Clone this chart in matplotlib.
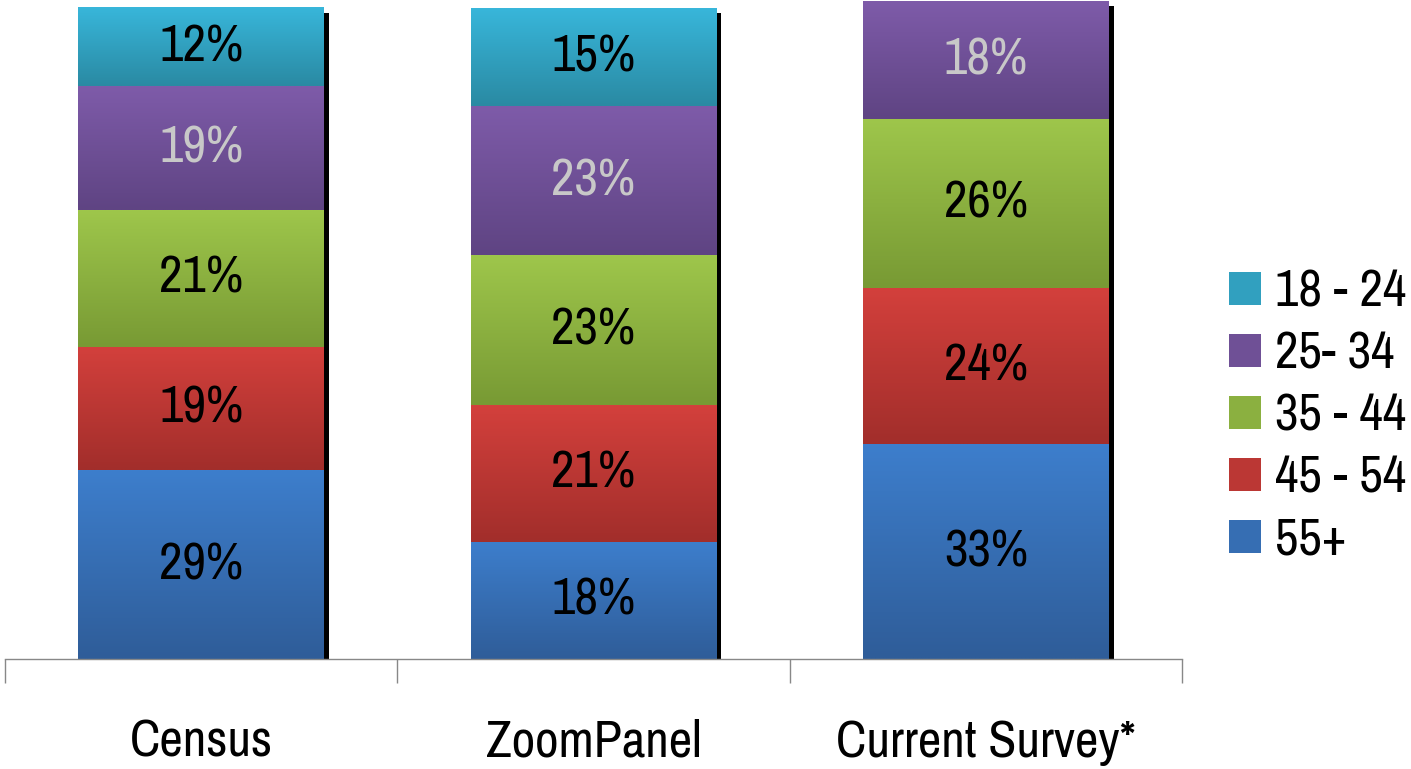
import numpy as np
import matplotlib
matplotlib.use("Agg")
import matplotlib.pyplot as plt
from matplotlib.patches import Patch
from matplotlib.colors import to_rgb

plt.rcParams['font.family'] = ['Archivo Narrow', 'Liberation Sans', 'DejaVu Sans']

# Age split per source, bottom segment first
groups = ['Census', 'ZoomPanel', 'Current Survey*']
ages = ['55+', '45 - 54', '35 - 44', '25- 34', '18 - 24']
shares = {
    '55+':     [29, 18, 33],
    '45 - 54': [19, 21, 24],
    '35 - 44': [21, 23, 26],
    '25- 34':  [19, 23, 18],
    '18 - 24': [12, 15, 0],
}

# top / bottom colour of each segment's gradient
tops = {'55+': '#3d7ecc', '45 - 54': '#d3403c', '35 - 44': '#9ec64b',
        '25- 34': '#7e5ba9', '18 - 24': '#38b6da'}
bottoms = {'55+': '#2f5d99', '45 - 54': '#a22e2b', '35 - 44': '#789a34',
           '25- 34': '#5f4483', '18 - 24': '#2a8aa3'}
text_col = {'25- 34': '#c8c8c8'}

fs = 37
px_per_unit = 6.51

fig = plt.figure(figsize=(14.11, 7.69), dpi=100)
ax = fig.add_axes([5 / 1411, 110 / 769, 1177 / 1411, 659 / 769])

x = np.arange(len(groups))
w = 0.627
xlim = (-0.5, 2.5)
ylim = (0, 659 / px_per_unit)

# drop shadow behind each stack
totals = np.sum([shares[a] for a in ages], axis=0)
dx = 5 / 392.3
dy = 5 / px_per_unit
ax.bar(x + dx, totals - dy, w, color='black', zorder=1)

def gradient(c1, c2, n=64):
    a, b = np.array(to_rgb(c1)), np.array(to_rgb(c2))
    t = np.linspace(0, 1, n)[:, None]
    return (a * (1 - t) + b * t)[:, None, :]

bottom = np.zeros(len(groups))
for a in ages:
    vals = np.array(shares[a], dtype=float)
    bars = ax.bar(x, vals, w, bottom=bottom, color='none', zorder=2)
    img = gradient(tops[a], bottoms[a])
    for i, b in enumerate(bars):
        if vals[i] <= 0:
            continue
        x0, y0 = b.get_x(), b.get_y()
        ax.imshow(img, extent=(x0, x0 + b.get_width(), y0, y0 + b.get_height()),
                  aspect='auto', zorder=2, interpolation='bilinear')
        ax.text(x[i], y0 + vals[i] / 2, f'{int(vals[i])}%', ha='center', va='center',
                fontsize=fs, color=text_col.get(a, 'black'), zorder=3)
    bottom += vals

ax.set_xlim(*xlim)
ax.set_ylim(*ylim)

for s in ['left', 'top', 'right']:
    ax.spines[s].set_visible(False)
ax.spines['bottom'].set_color('#888888')
ax.spines['bottom'].set_linewidth(1)
ax.set_yticks([])
ax.set_xticks(x)
ax.set_xticklabels(groups, fontsize=fs)
ax.tick_params(axis='x', which='major', length=0, pad=43)
ax.set_xticks([-0.5, 0.5, 1.5, 2.5], minor=True)
ax.tick_params(axis='x', which='minor', length=17, width=1, color='#888888')

mix = {a: tuple((np.array(to_rgb(tops[a])) + np.array(to_rgb(bottoms[a]))) / 2) for a in ages}
handles = [Patch(facecolor=mix[a], edgecolor='none') for a in ages[::-1]]
fig.legend(handles, ages[::-1], loc='center left', bbox_to_anchor=(1229 / 1411, 1 - 416 / 769),
           frameon=False, fontsize=fs, handlelength=0.62, handleheight=0.62,
           handletextpad=0.28, labelspacing=0.29, borderpad=0, borderaxespad=0)

fig.savefig('out.png', dpi=100)
